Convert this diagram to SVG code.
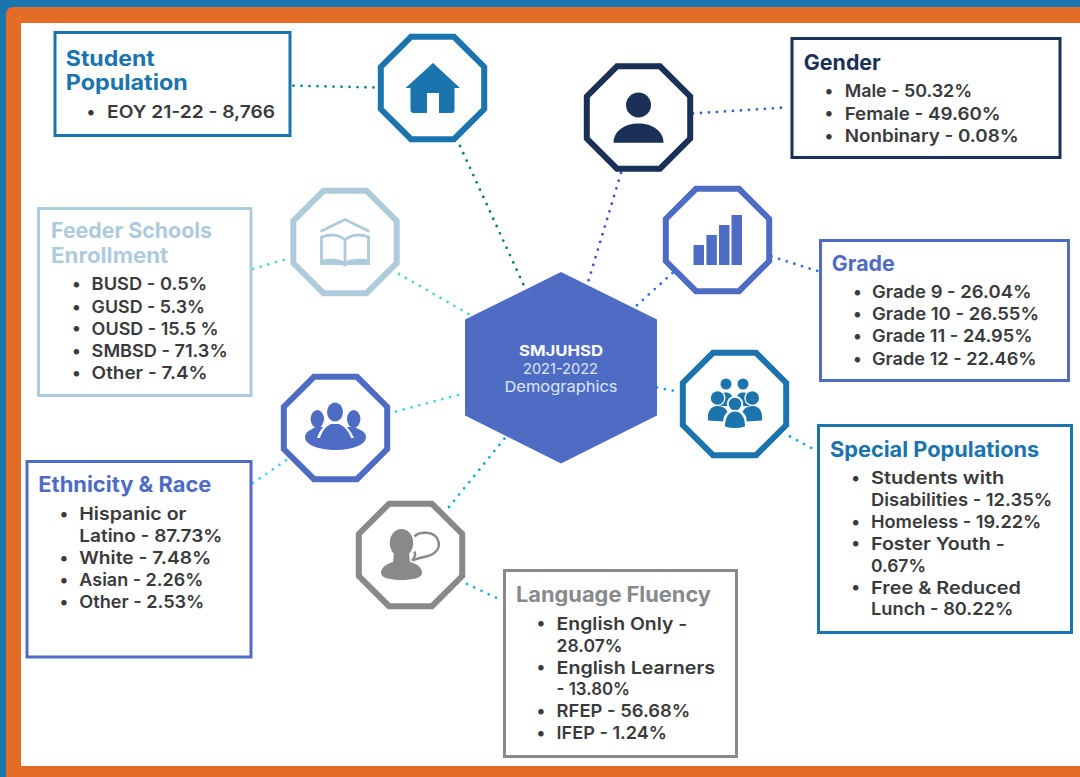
<svg xmlns="http://www.w3.org/2000/svg" width="1080" height="777" viewBox="0 0 1080 777">
<style>
text{font-family:"Inter","Liberation Sans",sans-serif}
.box{fill:#fff;stroke-width:3}
.oct{fill:#fff;stroke-width:6;stroke-linejoin:miter}
.t{font-size:21px;font-weight:700;transform:translate(-.7px,.8px)}
.b{font-size:17.5px;font-weight:600;fill:#3a3a3c;transform:translate(-.7px,.3px)}
.d{font-size:17.5px;font-weight:600;fill:#3a3a3c;text-anchor:middle}
.c1{font-size:15px;font-weight:700;fill:#fff}
.c2{font-size:15px;font-weight:400;fill:#dfe4f4}
#connectors line{stroke-width:2.8;stroke-linecap:round;stroke-dasharray:0 8;fill:none}
.blue{stroke:#1b74ad;fill:#1b74ad}
.navy{stroke:#1a3057;fill:#1a3057}
.roy{stroke:#4f6cc4;fill:#4f6cc4}
.pale{stroke:#aecbdc;fill:#aecbdc}
.grey{stroke:#87898b;fill:#87898b}
.blue .oct,.navy .oct,.roy .oct,.pale .oct,.grey .oct,.blue .box,.navy .box,.roy .box,.pale .box,.grey .box{fill:#fff}
.ic{stroke:none}
.blue text.t,.navy text.t,.roy text.t,.pale text.t,.grey text.t{stroke:none}
text.b,text.d{stroke:none}
</style>
<defs>
<polygon id="octagon" class="oct" points="-21.5,-51.2 21.5,-51.2 51.7,-21 51.7,21 21.5,51.2 -21.5,51.2 -51.7,21 -51.7,-21"/>
</defs>
<rect width="1080" height="777" fill="#1b74ad"/>
<rect x="6" y="7" width="1090" height="790" rx="7" fill="#e36d26"/>
<rect x="21" y="23" width="1059" height="743" fill="#fff"/>

<g id="connectors">
<line x1="293.5" y1="85.7" x2="378" y2="87.5" stroke="#0f8c80"/>
<line x1="460" y1="146" x2="525" y2="288" stroke="#0c7a78"/>
<line x1="253" y1="269" x2="290" y2="258" stroke="#4cdcb6"/>
<line x1="399" y1="274" x2="472" y2="316" stroke="#4cdcb6"/>
<line x1="693" y1="113.5" x2="785" y2="107.5" stroke="#3a5fd0"/>
<line x1="621" y1="173" x2="587.5" y2="284" stroke="#3a55b8"/>
<line x1="672.5" y1="273" x2="635" y2="307" stroke="#2f6fe8"/>
<line x1="771.5" y1="256.5" x2="819" y2="271.5" stroke="#3a6ae0"/>
<line x1="657" y1="387.5" x2="680" y2="392" stroke="#1f9be8"/>
<line x1="790" y1="436.5" x2="817" y2="451" stroke="#1f9be8"/>
<line x1="396" y1="411.5" x2="460" y2="394.5" stroke="#45d2e2"/>
<line x1="253" y1="483" x2="288" y2="459" stroke="#45d2e2"/>
<line x1="449" y1="507" x2="505" y2="438" stroke="#12b0d2"/>
<line x1="467" y1="584" x2="503" y2="601" stroke="#1ab8da"/>
</g>

<g id="node-center">
<polygon points="561,272 657,319.5 657,415.5 561,463.5 465,415.5 465,319.5" fill="#4f6cc4"/>
<text class="c1" x="519" y="356" textLength="84" lengthAdjust="spacingAndGlyphs">SMJUHSD</text>
<text class="c2" x="523" y="374" textLength="75" lengthAdjust="spacingAndGlyphs">2021-2022</text>
<text class="c2" x="504.5" y="391.5" textLength="113" lengthAdjust="spacingAndGlyphs">Demographics</text>
</g>

<g id="node-student-population-icon" class="blue">
<use href="#octagon" x="432.5" y="88"/>
<path class="ic" d="M433 63 L460 88 L454.5 88 L454.5 110 Q454.5 113 451.5 113 L439 113 L439 93 L427 93 L427 113 L413.5 113 Q410.5 113 410.5 110 L410.5 88 L405.5 88 Z"/>
</g>
<g id="node-student-population" class="blue">
<rect class="box" x="55" y="32.5" width="235" height="103"/>
<text class="t" x="66.5" y="65" textLength="89" lengthAdjust="spacingAndGlyphs">Student</text>
<text class="t" x="66.5" y="89.5" textLength="122" lengthAdjust="spacingAndGlyphs">Population</text>
<text class="d" x="91" y="117.7">•</text>
<text class="b" x="107.8" y="117.7" textLength="168" lengthAdjust="spacingAndGlyphs">EOY 21-22 - 8,766</text>
</g>

<g id="node-gender-icon" class="navy">
<use href="#octagon" x="638.5" y="117.5"/>
<circle class="ic" cx="638.5" cy="105" r="12.5"/>
<path class="ic" d="M613.5 142.7 C613.5 131 625 123.5 638.5 123.5 C652 123.5 663.5 131 663.5 142.7 Z"/>
</g>
<g id="node-gender" class="navy">
<rect class="box" x="792" y="38.5" width="268" height="119"/>
<text class="t" x="804.5" y="69" textLength="77" lengthAdjust="spacingAndGlyphs">Gender</text>
<text class="d" x="829" y="96.7">•</text>
<text class="b" x="845.4" y="96.7" textLength="127.5" lengthAdjust="spacingAndGlyphs">Male - 50.32%</text>
<text class="d" x="829" y="119.3">•</text>
<text class="b" x="845.4" y="119.3" textLength="156" lengthAdjust="spacingAndGlyphs">Female - 49.60%</text>
<text class="d" x="829" y="141.7">•</text>
<text class="b" x="845.4" y="141.7" textLength="174" lengthAdjust="spacingAndGlyphs">Nonbinary - 0.08%</text>
</g>

<g id="node-grade-icon" class="roy">
<use href="#octagon" x="717.5" y="240"/>
<rect class="ic" x="693.5" y="245" width="10.5" height="20"/>
<rect class="ic" x="706.4" y="235" width="10.5" height="30"/>
<rect class="ic" x="719" y="225" width="10.5" height="40"/>
<rect class="ic" x="731.5" y="215" width="10.5" height="50"/>
</g>
<g id="node-grade" class="roy">
<rect class="box" x="820.5" y="240.5" width="248" height="140"/>
<text class="t" x="832.5" y="270.7" textLength="63" lengthAdjust="spacingAndGlyphs">Grade</text>
<text class="d" x="857.5" y="297.7">•</text>
<text class="b" x="872.7" y="297.7" textLength="159.5" lengthAdjust="spacingAndGlyphs">Grade 9 - 26.04%</text>
<text class="d" x="857.5" y="320">•</text>
<text class="b" x="872.7" y="320" textLength="167" lengthAdjust="spacingAndGlyphs">Grade 10 - 26.55%</text>
<text class="d" x="857.5" y="342">•</text>
<text class="b" x="872.7" y="342" textLength="160.5" lengthAdjust="spacingAndGlyphs">Grade 11 - 24.95%</text>
<text class="d" x="857.5" y="364.5">•</text>
<text class="b" x="872.7" y="364.5" textLength="164.5" lengthAdjust="spacingAndGlyphs">Grade 12 - 22.46%</text>
</g>

<g id="node-special-populations-icon" class="blue">
<use href="#octagon" x="734.5" y="404"/>
<circle class="ic" cx="726" cy="384" r="5.5"/>
<circle class="ic" cx="743" cy="384" r="5.5"/>
<path class="ic" d="M719 400 C719 390 733 390 733 400 L733 406 L719 406 Z"/>
<path class="ic" d="M736 400 C736 390 750 390 750 400 L750 406 L736 406 Z"/>
<circle cx="717.5" cy="398" r="8" fill="#fff" stroke="none"/>
<circle cx="752.3" cy="398" r="8" fill="#fff" stroke="none"/>
<circle class="ic" cx="717.5" cy="398" r="6.7"/>
<circle class="ic" cx="752.3" cy="398" r="6.7"/>
<path class="ic" d="M708 420.5 C707 411 711 406 717.5 406 C724 406 727.5 410 728 414 L724 421.5 Z"/>
<path class="ic" d="M762 420.5 C763 411 759 406 752.5 406 C746 406 742.5 410 742 414 L746 421.5 Z"/>
<circle cx="735" cy="404" r="8.2" fill="#fff" stroke="none"/>
<circle class="ic" cx="735" cy="404" r="6.3"/>
<path d="M723.3 429.5 L723.3 421 C723.3 406 746.7 406 746.7 421 L746.7 429.5 Z" fill="#fff" stroke="none"/>
<path class="ic" d="M725 426.5 C725 417 729 411.5 735 411.5 C741 411.5 745 417 745 426.5 Q735 429.5 725 426.5 Z"/>
</g>
<g id="node-special-populations" class="blue">
<rect class="box" x="818.5" y="425.5" width="253" height="207"/>
<text class="t" x="830.7" y="456.7" textLength="209.3" lengthAdjust="spacingAndGlyphs">Special Populations</text>
<text class="d" x="855.7" y="484">•</text>
<text class="b" x="871.7" y="484" textLength="133.3" lengthAdjust="spacingAndGlyphs">Students with</text>
<text class="b" x="871.7" y="505.7" textLength="181.3" lengthAdjust="spacingAndGlyphs">Disabilities - 12.35%</text>
<text class="d" x="855.7" y="527.7">•</text>
<text class="b" x="871.7" y="527.7" textLength="170.3" lengthAdjust="spacingAndGlyphs">Homeless - 19.22%</text>
<text class="d" x="855.7" y="549.3">•</text>
<text class="b" x="871.7" y="549.3" textLength="134" lengthAdjust="spacingAndGlyphs">Foster Youth -</text>
<text class="b" x="871.7" y="571.7" textLength="55" lengthAdjust="spacingAndGlyphs">0.67%</text>
<text class="d" x="855.7" y="593.3">•</text>
<text class="b" x="871.7" y="593.3" textLength="150" lengthAdjust="spacingAndGlyphs">Free &amp; Reduced</text>
<text class="b" x="871.7" y="615" textLength="142.3" lengthAdjust="spacingAndGlyphs">Lunch - 80.22%</text>
</g>

<g id="node-language-fluency-icon" class="grey">
<use href="#octagon" x="410.5" y="555"/>
<ellipse class="ic" cx="401.5" cy="543" rx="11.7" ry="14"/>
<path class="ic" d="M394 553 L409 553 L410 562 C417 564 422 567 422 573 C422 578 412 580 401.5 580 C391 580 381 578 381 573 C381 567 387 564 393 562 Z"/>
<path d="M414.5 536.5 C419 531.5 434 530.5 438 540 C441.5 549 434 555 426 556.5 C421 557.5 416 559 412 560.5 C414.5 558 416 555 414.5 551.5" fill="none" stroke-width="2.4"/>
</g>
<g id="node-language-fluency" class="grey">
<rect class="box" x="504.5" y="570.5" width="232" height="186"/>
<text class="t" x="516.7" y="601.7" textLength="195" lengthAdjust="spacingAndGlyphs">Language Fluency</text>
<text class="d" x="541" y="629.3">•</text>
<text class="b" x="557.3" y="629.3" textLength="130.7" lengthAdjust="spacingAndGlyphs">English Only -</text>
<text class="b" x="557.3" y="651.7" textLength="65.7" lengthAdjust="spacingAndGlyphs">28.07%</text>
<text class="d" x="541" y="673.3">•</text>
<text class="b" x="557.3" y="673.3" textLength="158.4" lengthAdjust="spacingAndGlyphs">English Learners</text>
<text class="b" x="557.3" y="695" textLength="73.4" lengthAdjust="spacingAndGlyphs">- 13.80%</text>
<text class="d" x="541" y="716.7">•</text>
<text class="b" x="557.3" y="716.7" textLength="133.7" lengthAdjust="spacingAndGlyphs">RFEP - 56.68%</text>
<text class="d" x="541" y="739">•</text>
<text class="b" x="557.3" y="739" textLength="110.4" lengthAdjust="spacingAndGlyphs">IFEP - 1.24%</text>
</g>

<g id="node-ethnicity-icon" class="roy">
<use href="#octagon" x="335.5" y="428"/>
<ellipse class="ic" cx="317.3" cy="419" rx="6.7" ry="9"/>
<ellipse class="ic" cx="353.7" cy="419" rx="6.7" ry="9"/>
<path class="ic" d="M305 437 C305 432 310 430 316 427 L320 427 L350 427 L354 427 C361 430 366 432 366 437 C366 445 352 450 335.5 450 C319 450 305 445 305 437 Z"/>
<ellipse cx="335" cy="412" rx="9.8" ry="11.5" fill="#fff" stroke="none"/>
<ellipse class="ic" cx="335" cy="412" rx="8" ry="9.5"/>
<path d="M317 438 C319 431 324 425 330 422 L340 422 C346 425 351 431 354 438 Z" fill="#fff" stroke="none"/>
<path class="ic" d="M319.5 440 C321 432 326 426 331 424 L339 424 C344 426 350 432 351.5 440 Z"/>
</g>
<g id="node-ethnicity" class="roy">
<rect class="box" x="27" y="461.5" width="224" height="195.5"/>
<text class="t" x="39" y="491.5" textLength="173" lengthAdjust="spacingAndGlyphs">Ethnicity &amp; Race</text>
<text class="d" x="64" y="520">•</text>
<text class="b" x="80" y="520" textLength="107" lengthAdjust="spacingAndGlyphs">Hispanic or</text>
<text class="b" x="80" y="542" textLength="143" lengthAdjust="spacingAndGlyphs">Latino - 87.73%</text>
<text class="d" x="64" y="564">•</text>
<text class="b" x="80" y="564" textLength="132" lengthAdjust="spacingAndGlyphs">White - 7.48%</text>
<text class="d" x="64" y="586">•</text>
<text class="b" x="80" y="586" textLength="124" lengthAdjust="spacingAndGlyphs">Asian - 2.26%</text>
<text class="d" x="64" y="608">•</text>
<text class="b" x="80" y="608" textLength="125" lengthAdjust="spacingAndGlyphs">Other - 2.53%</text>
</g>

<g id="node-feeder-icon" class="pale">
<use href="#octagon" x="345" y="242"/>
<path d="M320.5 231.5 L345 219.5 L369.5 231.5" fill="none" stroke-width="2.6"/>
<path d="M345 240 C339 234 329 234 321.5 237 L321.5 263 C329 261 339 261 345 265 C351 261 361 261 368.5 263 L368.5 237 C361 234 351 234 345 240 Z M345 240 L345 265" fill="none" stroke-width="2.8"/>
<path class="ic" d="M320.5 260 C329 258 339 258 345 262 C351 258 361 258 369.5 260 L369.5 265 L320.5 265 Z"/>
</g>
<g id="node-feeder" class="pale">
<rect class="box" x="38.5" y="208.5" width="212.5" height="187"/>
<text class="t" x="51.7" y="237.7" textLength="161" lengthAdjust="spacingAndGlyphs">Feeder Schools</text>
<text class="t" x="51.7" y="262.7" textLength="117.3" lengthAdjust="spacingAndGlyphs">Enrollment</text>
<text class="d" x="76.3" y="290">•</text>
<text class="b" x="92.3" y="290" textLength="115.4" lengthAdjust="spacingAndGlyphs">BUSD - 0.5%</text>
<text class="d" x="76.3" y="312.7">•</text>
<text class="b" x="92.3" y="312.7" textLength="113.4" lengthAdjust="spacingAndGlyphs">GUSD - 5.3%</text>
<text class="d" x="76.3" y="334.3">•</text>
<text class="b" x="92.3" y="334.3" textLength="127" lengthAdjust="spacingAndGlyphs">OUSD - 15.5 %</text>
<text class="d" x="76.3" y="356.7">•</text>
<text class="b" x="92.3" y="356.7" textLength="136" lengthAdjust="spacingAndGlyphs">SMBSD - 71.3%</text>
<text class="d" x="76.3" y="379">•</text>
<text class="b" x="92.3" y="379" textLength="116" lengthAdjust="spacingAndGlyphs">Other - 7.4%</text>
</g>
</svg>
